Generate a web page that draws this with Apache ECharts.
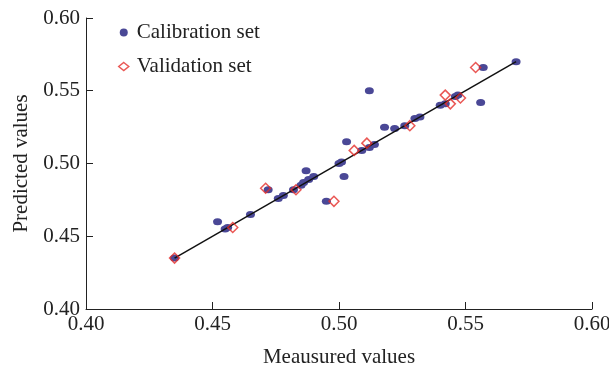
<!DOCTYPE html>
<html>
<head>
<meta charset="utf-8">
<script src="https://cdn.jsdelivr.net/npm/echarts@6/dist/echarts.min.js"></script>
<style>
  html, body { margin: 0; padding: 0; background: #fff; }
  #chart { width: 609px; height: 370px; }
</style>
</head>
<body>
<div id="chart"></div>
<script>
// tick labels
const xTicks = ['0.40', '0.45', '0.50', '0.55', '0.60'];
const yTicks = ['0.40', '0.45', '0.50', '0.55', '0.60'];

// calibration set: [measured, predicted]
const calibration = [
  [0.435, 0.435], [0.452, 0.460], [0.455, 0.455], [0.456, 0.456],
  [0.465, 0.465], [0.472, 0.482], [0.476, 0.476], [0.478, 0.478],
  [0.482, 0.482], [0.485, 0.485], [0.486, 0.487], [0.488, 0.489],
  [0.487, 0.495], [0.490, 0.491], [0.495, 0.474], [0.500, 0.500],
  [0.501, 0.501], [0.502, 0.491], [0.503, 0.515], [0.509, 0.509],
  [0.512, 0.511], [0.512, 0.550], [0.514, 0.513], [0.518, 0.525],
  [0.522, 0.524], [0.526, 0.526], [0.530, 0.531], [0.532, 0.532],
  [0.540, 0.540], [0.542, 0.541], [0.546, 0.546], [0.547, 0.547],
  [0.556, 0.542], [0.557, 0.566], [0.570, 0.570]
];

// validation set: [measured, predicted]
const validation = [
  [0.435, 0.435], [0.458, 0.456], [0.471, 0.483], [0.483, 0.482],
  [0.498, 0.474], [0.506, 0.509], [0.511, 0.514], [0.528, 0.526],
  [0.542, 0.547], [0.544, 0.541], [0.548, 0.545], [0.554, 0.566]
];

// 1:1 fit line ends
const fitLine = [[0.435, 0.435], [0.570, 0.570]];

const font = 'Liberation Serif';
const blue = '#4a4896';
const red = '#e52e2a';
const ellipse = 'path://M0,5 A5,5 0 1,0 10,5 A5,5 0 1,0 0,5 Z';

const chart = echarts.init(document.getElementById('chart'));

const axisCommon = {
  type: 'value',
  min: 0.4,
  max: 0.6,
  interval: 0.05,
  nameLocation: 'middle',
  nameTextStyle: { fontFamily: font, fontSize: 21, color: '#222' },
  axisLine: { show: true, lineStyle: { color: '#222', width: 1 } },
  axisTick: { show: true, inside: true, length: 7, lineStyle: { color: '#222', width: 1 } },
  splitLine: { show: false },
};

chart.setOption({
  animation: false,
  grid: { left: 86, right: 17, top: 18, bottom: 61, outerBoundsMode: 'none' },
  legend: {
    orient: 'vertical',
    left: 113,
    top: 17,
    itemGap: 13,
    itemWidth: 10,
    itemHeight: 8,
    textStyle: { fontFamily: font, fontSize: 21, color: '#222', padding: [0, 0, 0, 3] },
    data: [
      { name: 'Calibration set', icon: 'circle', itemStyle: { color: blue } },
      { name: 'Validation set', icon: 'diamond',
        itemStyle: { color: '#fff', borderColor: red, borderWidth: 1.5 } }
    ]
  },
  xAxis: Object.assign({}, axisCommon, {
    name: 'Meausured values',
    nameGap: 38,
    axisLabel: {
      margin: 5, fontFamily: font, fontSize: 21, color: '#222',
      formatter: (v) => xTicks[Math.round((v - 0.4) / 0.05)]
    }
  }),
  yAxis: Object.assign({}, axisCommon, {
    name: 'Predicted values',
    nameGap: 54,
    axisLabel: {
      margin: 6, fontFamily: font, fontSize: 21, color: '#222',
      formatter: (v) => yTicks[Math.round((v - 0.4) / 0.05)]
    }
  }),
  series: [
    {
      name: 'Calibration set',
      type: 'scatter',
      symbol: ellipse,
      symbolSize: [9, 7],
      itemStyle: { color: blue, opacity: 1 },
      data: calibration,
      z: 2
    },
    {
      name: 'fit',
      type: 'line',
      data: fitLine,
      showSymbol: false,
      lineStyle: { color: '#111', width: 1.5 },
      z: 3
    },
    {
      name: 'Validation set',
      type: 'scatter',
      symbol: 'diamond',
      symbolSize: 10,
      itemStyle: { color: 'rgba(255,255,255,0)', borderColor: red, borderWidth: 1.5 },
      data: validation,
      z: 4
    }
  ]
});
</script>
</body>
</html>
